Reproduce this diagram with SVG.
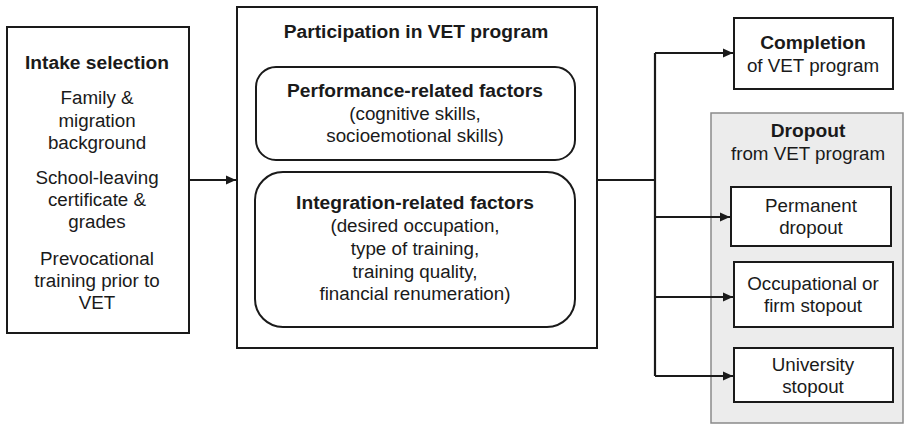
<svg xmlns="http://www.w3.org/2000/svg" width="904" height="424" viewBox="0 0 904 424">
<defs>
<marker id="arr" viewBox="0 0 10 10" refX="10" refY="5" markerWidth="10" markerHeight="10" markerUnits="userSpaceOnUse" orient="auto">
<path d="M0,0.5 L10,5 L0,9.5 Z" fill="#1a1a1a"/>
</marker>
<style>
text{font-family:"Liberation Sans",Arial,sans-serif;font-size:18.8px;fill:#1a1a1a;text-anchor:middle}
.b{font-weight:bold;font-size:19.2px}
.box{fill:#fff;stroke:#1a1a1a;stroke-width:2}
.grp{fill:#ececec;stroke:#8a8a8a;stroke-width:1.5}
.con{fill:none;stroke:#1a1a1a;stroke-width:2.2}
</style>
</defs>
<rect width="904" height="424" fill="#fff"/>
<g id="dropout-group">
<rect class="grp" x="711" y="113" width="192" height="310"/>
<text class="b" x="808" y="137">Dropout</text>
<text x="808" y="160">from VET program</text>
</g>
<g id="intake">
<rect class="box" x="7" y="27" width="182" height="306"/>
<text class="b" x="97" y="69">Intake selection</text>
<text x="97" y="104">Family &amp;</text>
<text x="97" y="127">migration</text>
<text x="97" y="149">background</text>
<text x="97" y="184">School-leaving</text>
<text x="97" y="206">certificate &amp;</text>
<text x="97" y="228">grades</text>
<text x="97" y="265">Prevocational</text>
<text x="97" y="287">training prior to</text>
<text x="97" y="309">VET</text>
</g>
<g id="participation">
<rect class="box" x="237" y="7" width="360" height="341"/>
<text class="b" x="416" y="38">Participation in VET program</text>
</g>
<g id="performance">
<rect class="box" x="256" y="67" width="319" height="93" rx="20" ry="20"/>
<text class="b" x="415" y="97">Performance-related factors</text>
<text x="415" y="120">(cognitive skills,</text>
<text x="415" y="142">socioemotional skills)</text>
</g>
<g id="integration">
<rect class="box" x="255" y="172" width="320" height="155" rx="28" ry="28"/>
<text class="b" x="415" y="209">Integration-related factors</text>
<text x="415" y="232">(desired occupation,</text>
<text x="415" y="255">type of training,</text>
<text x="415" y="278">training quality,</text>
<text x="415" y="300">financial renumeration)</text>
</g>
<g id="completion">
<rect class="box" x="734" y="18" width="159" height="71"/>
<text class="b" x="813" y="49">Completion</text>
<text x="813" y="72">of VET program</text>
</g>
<g id="permanent">
<rect class="box" x="731" y="187" width="160" height="59"/>
<text x="811" y="212">Permanent</text>
<text x="811" y="234">dropout</text>
</g>
<g id="occupational">
<rect class="box" x="734" y="262" width="159" height="65"/>
<text x="813" y="290">Occupational or</text>
<text x="813" y="312">firm stopout</text>
</g>
<g id="university">
<rect class="box" x="734" y="348" width="159" height="54"/>
<text x="813" y="371">University</text>
<text x="813" y="393">stopout</text>
</g>
<g id="connectors">
<line class="con" x1="189" y1="180" x2="236" y2="180" marker-end="url(#arr)"/>
<line class="con" x1="597" y1="180" x2="655" y2="180"/>
<line class="con" x1="655" y1="53" x2="655" y2="376"/>
<line class="con" x1="655" y1="53" x2="733" y2="53" marker-end="url(#arr)"/>
<line class="con" x1="655" y1="217" x2="730" y2="217" marker-end="url(#arr)"/>
<line class="con" x1="655" y1="297" x2="733" y2="297" marker-end="url(#arr)"/>
<line class="con" x1="655" y1="376" x2="733" y2="376" marker-end="url(#arr)"/>
</g>
</svg>
